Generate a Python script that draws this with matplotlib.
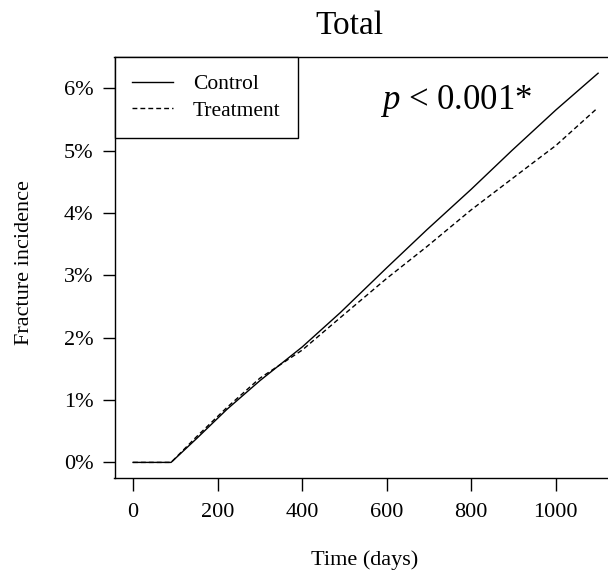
import numpy as np
import matplotlib
matplotlib.use('Agg')
import matplotlib.pyplot as plt
from matplotlib.ticker import FuncFormatter

# cumulative incidence (days, percent)
control_days = [0, 90, 150, 222, 300, 400, 490, 600, 695, 800, 896, 1000, 1100]
control_pct = [0, 0, 0.38, 0.85, 1.31, 1.85, 2.40, 3.12, 3.73, 4.38, 5.00, 5.65, 6.24]
treat_days = [0, 90, 150, 222, 300, 400, 490, 600, 695, 800, 955, 1000, 1095]
treat_pct = [0, 0, 0.41, 0.88, 1.35, 1.80, 2.32, 2.95, 3.46, 4.05, 4.85, 5.08, 5.66]

x_ticks = [0, 200, 400, 600, 800, 1000]
y_ticks = [0, 1, 2, 3, 4, 5, 6]

plt.rcParams['font.family'] = ['Liberation Serif', 'DejaVu Serif']
plt.rcParams['mathtext.fontset'] = 'custom'
plt.rcParams['mathtext.rm'] = 'Liberation Serif'
plt.rcParams['mathtext.it'] = 'Liberation Serif:italic'

fig = plt.figure(figsize=(6.08, 5.73), dpi=100)
# plot region runs past the right edge, as in the cropped original
ax = fig.add_axes([114.5 / 608, 95 / 573, 500 / 608, 421 / 573])

ax.plot(control_days, control_pct, color='black', lw=1.0, ls='-', label='Control')
ax.plot(treat_days, treat_pct, color='black', lw=1.0, ls=(0, (3.5, 2.2)), label='Treatment')

ax.set_xlim(-43.8, 1138.8)
ax.set_ylim(-0.25, 6.5)
ax.set_xticks(x_ticks)
ax.set_yticks(y_ticks)
ax.yaxis.set_major_formatter(FuncFormatter(lambda v, p: '%d%%' % v))
ax.tick_params(direction='out', length=9, width=1.0, labelsize=16, colors='black')
ax.tick_params(axis='x', pad=9)
ax.tick_params(axis='y', pad=6)
for s in ax.spines.values():
    s.set_linewidth(1.0)
    s.set_color('black')

leg = ax.legend(loc='upper left', bbox_to_anchor=(0, 1), borderaxespad=0,
                fontsize=15.5, fancybox=False, edgecolor='black', framealpha=1,
                handlelength=1.9, handletextpad=0.95, borderpad=0.8,
                labelspacing=0.3)
leg.get_frame().set_linewidth(1.0)

fig.text(349 / 608, 1 - 26 / 573, 'Total', ha='center', va='center', fontsize=24)
fig.text(365 / 608, 1 - 560 / 573, 'Time (days)', ha='center', va='center', fontsize=16)
fig.text(25 / 608, 1 - 263 / 573, 'Fracture incidence', ha='center', va='center',
         rotation=90, fontsize=16)
ax.text(765, 5.8, r'$p$ < 0.001*', ha='center', va='center', fontsize=25)

fig.savefig('out.png', dpi=100)
